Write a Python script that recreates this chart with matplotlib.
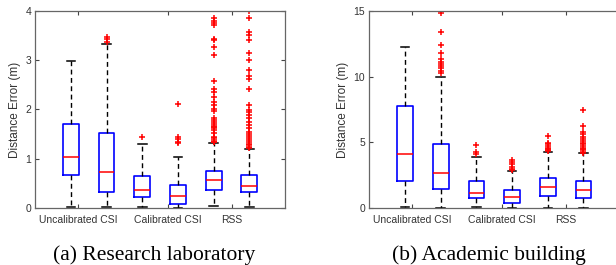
import matplotlib
matplotlib.use('Agg')
import matplotlib.pyplot as plt

# box statistics: q1, median, q3, lower whisker, upper whisker
groups = ['Uncalibrated CSI', 'Calibrated CSI', 'RSS']
label_pos = [1.2, 3.72, 5.51]

lab_q1 = [0.66, 0.32, 0.22, 0.09, 0.37, 0.32]
lab_med = [1.03, 0.74, 0.37, 0.24, 0.56, 0.45]
lab_q3 = [1.70, 1.52, 0.64, 0.47, 0.75, 0.67]
lab_lo = [0.02, 0.02, 0.02, 0.0, 0.04, 0.02]
lab_hi = [2.98, 3.32, 1.29, 1.03, 1.31, 1.20]
lab_fliers = [
    [],
    [3.47, 3.43, 3.37],
    [1.45],
    [2.12, 1.45, 1.40, 1.35, 1.31],
    [3.86, 3.80, 3.75, 3.72, 3.44, 3.42, 3.26, 3.11, 2.58, 2.41, 2.35, 2.26,
     2.16, 2.09, 2.02, 1.96, 1.82, 1.78, 1.75, 1.70, 1.67, 1.64, 1.62, 1.58,
     1.52, 1.45, 1.42, 1.38, 1.35, 1.33],
    [3.99, 3.85, 3.57, 3.51, 3.42, 3.14, 3.00, 2.80, 2.68, 2.62, 2.42, 2.09,
     1.99, 1.94, 1.89, 1.83, 1.75, 1.69, 1.62, 1.55, 1.50, 1.46, 1.42, 1.38,
     1.34, 1.30, 1.27, 1.24, 1.22],
]

bld_q1 = [2.08, 1.47, 0.79, 0.35, 0.94, 0.76]
bld_med = [4.11, 2.69, 1.14, 0.81, 1.63, 1.37]
bld_q3 = [7.77, 4.90, 2.06, 1.37, 2.31, 2.08]
bld_lo = [0.1, 0.03, 0.07, 0.0, 0.0, 0.0]
bld_hi = [12.24, 10.0, 3.86, 2.82, 4.24, 4.16]
bld_fliers = [
    [],
    [14.83, 13.43, 12.41, 11.83, 11.32, 11.1, 10.95, 10.8, 10.64, 10.45, 10.3],
    [4.78, 4.30, 4.10],
    [3.66, 3.50, 3.33, 3.15, 2.95, 2.89],
    [5.48, 4.98, 4.85, 4.70, 4.60, 4.50, 4.42, 4.35],
    [7.46, 6.27, 5.81, 5.61, 5.43, 5.25, 5.10, 4.95, 4.85, 4.75, 4.60, 4.50,
     4.42, 4.30, 4.22],
]

captions = ['(a) Research laboratory', '(b) Academic building']

txt = '#333333'
fig = plt.figure(figsize=(6.16, 2.65), dpi=100)


def draw(ax, q1, med, q3, lo, hi, fliers, ymax, yticks, right=True):
    stats = []
    for i in range(len(med)):
        stats.append(dict(q1=q1[i], med=med[i], q3=q3[i], whislo=lo[i],
                          whishi=hi[i], fliers=fliers[i]))
    ax.bxp(stats, positions=range(1, len(med) + 1), widths=0.44, capwidths=0.24,
           boxprops=dict(color='#0000ff', lw=1.2),
           medianprops=dict(color='#ff0000', lw=1.1),
           whiskerprops=dict(color='black', lw=1.0, linestyle=(0, (3.5, 2.5))),
           capprops=dict(color='black', lw=1.1),
           flierprops=dict(marker='+', markeredgecolor='#ff0000',
                           markersize=5, markeredgewidth=1.1))
    ax.set_xlim(0, 7)
    ax.set_ylim(0, ymax)
    ax.set_yticks(yticks)
    ax.set_xticks(label_pos)
    ax.set_xticklabels(groups)
    ax.tick_params(direction='in', top=True, right=right, length=3,
                   width=0.8, color='#444444', labelsize=7.5, labelcolor=txt,
                   pad=3)
    ax.tick_params(axis='x', pad=5)
    for s in ax.spines.values():
        s.set_color('#666666')
        s.set_linewidth(0.9)
    ax.set_ylabel('Distance Error (m)', fontsize=8.5, color=txt, labelpad=3)
    for lbl in ax.get_xticklabels() + ax.get_yticklabels():
        lbl.set_family(['Liberation Sans', 'DejaVu Sans'])
    ax.yaxis.label.set_family(['Liberation Sans', 'DejaVu Sans'])


ax1 = fig.add_axes([0.0573, 0.2151, 0.4054, 0.7434])
draw(ax1, lab_q1, lab_med, lab_q3, lab_lo, lab_hi, lab_fliers, 4, [0, 1, 2, 3, 4])

ax2 = fig.add_axes([0.5997, 0.2151, 0.4054, 0.7434])
draw(ax2, bld_q1, bld_med, bld_q3, bld_lo, bld_hi, bld_fliers, 15, [0, 5, 10, 15],
     right=False)

fig.text(0.25, 0.02, captions[0], ha='center', va='baseline', fontsize=15.5,
         family=['Liberation Serif', 'DejaVu Serif'], color='black')
fig.text(0.794, 0.02, captions[1], ha='center', va='baseline', fontsize=15.5,
         family=['Liberation Serif', 'DejaVu Serif'], color='black')

fig.savefig('out.png', dpi=100)
